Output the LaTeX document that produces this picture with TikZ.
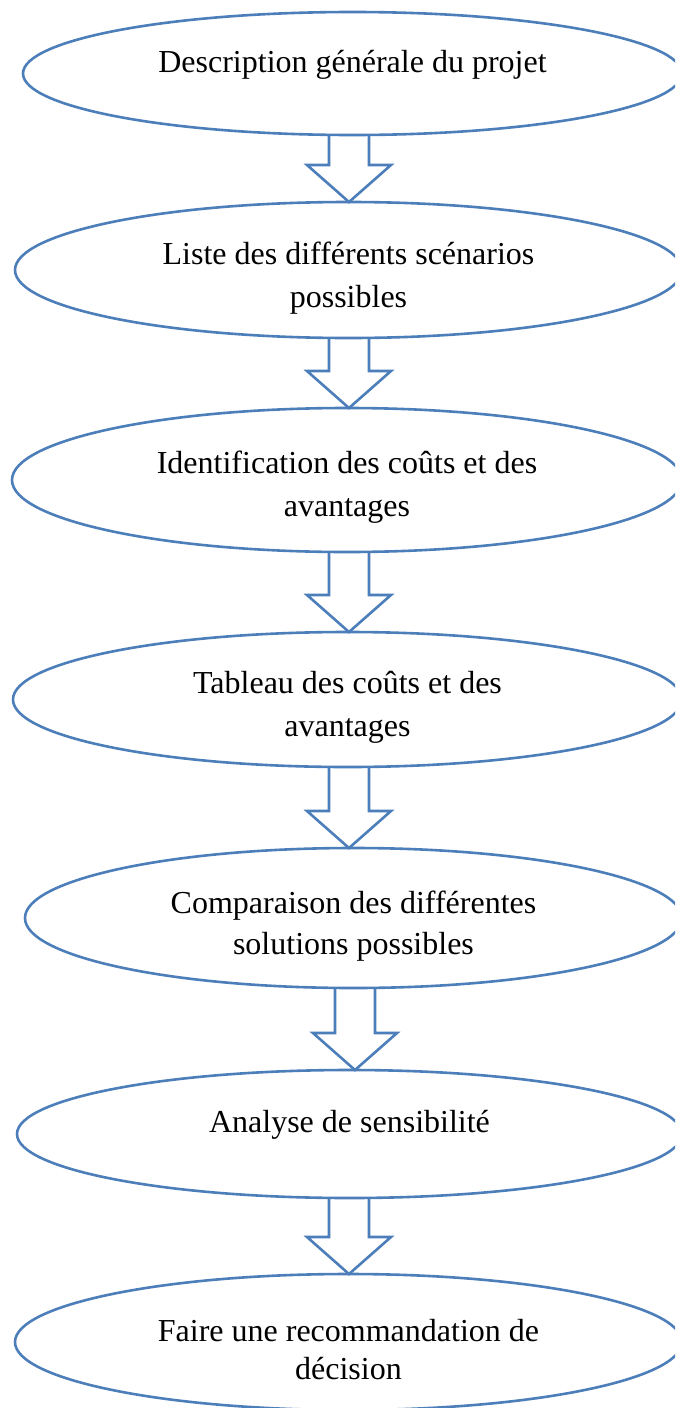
\documentclass[tikz,border=0pt]{standalone}
\usepackage{fontspec}
\setmainfont{Liberation Serif}
\usepackage{tikz}
\usetikzlibrary{
  shapes.geometric
}
\definecolor{wordblue}{RGB}{76,126,186}
% block arrow from the bottom of one stage to the top of the next
\newcommand{\stagearrow}[3]{%
  \coordinate (top) at (#1,0 |- #2.south);
  \coordinate (tip) at (#1,0 |- #3.north);
  \draw[arrowline] ([xshift=-20pt]top) -- ([xshift=-20pt,yshift=37pt]tip)
    -- ([xshift=-42pt,yshift=37pt]tip) -- (tip)
    -- ([xshift=42pt,yshift=37pt]tip) -- ([xshift=20pt,yshift=37pt]tip)
    -- ([xshift=20pt]top);
}

\begin{document}
\begin{tikzpicture}[
  x=1pt,
  y=-1pt,
  font=\fontsize{32}{43}\selectfont,
  stage/.style={
    ellipse,
    draw=wordblue,
    line width=2.6pt,
    inner sep=0pt,
    outer sep=0pt,
    align=center
  },
  arrowline/.style={
    draw=wordblue,
    line width=2.6pt,
    line join=miter
  }
]
\useasboundingbox (0,0) rectangle (675,1408);
\clip (0,0) rectangle (675,1408);

\node[stage, minimum width=659pt, minimum height=123pt, text depth=24pt] (desc) at (352.5,73.5) {Description générale du projet};
\node[stage, minimum width=667pt, minimum height=136pt, text height=85pt, text depth=10pt] (scen) at (348.5,270) {Liste des différents scénarios\\possibles};
\node[stage, minimum width=670pt, minimum height=144pt, text height=83pt, text depth=10pt] (ident) at (347,480) {Identification des coûts et des\\avantages};
\node[stage, minimum width=669pt, minimum height=135pt, text height=84pt, text depth=10pt] (tabl) at (347.5,699.5) {Tableau des coûts et des\\avantages};
\node[stage, minimum width=657pt, minimum height=140pt, text height=83pt, text depth=10pt, font=\fontsize{32}{41}\selectfont] (comp) at (353.5,918) {Comparaison des différentes\\solutions possibles};
\node[stage, minimum width=665pt, minimum height=128pt, text depth=25pt] (sens) at (349.5,1134) {Analyse de sensibilité};
\node[stage, minimum width=667pt, minimum height=136pt, text height=85pt, text depth=10pt, font=\fontsize{32}{38}\selectfont] (reco) at (348.5,1342) {Faire une recommandation de\\décision};

\stagearrow{349}{desc}{scen}
\stagearrow{349}{scen}{ident}
\stagearrow{349}{ident}{tabl}
\stagearrow{349}{tabl}{comp}
\stagearrow{355}{comp}{sens}
\stagearrow{349}{sens}{reco}

\end{tikzpicture}
\end{document}
